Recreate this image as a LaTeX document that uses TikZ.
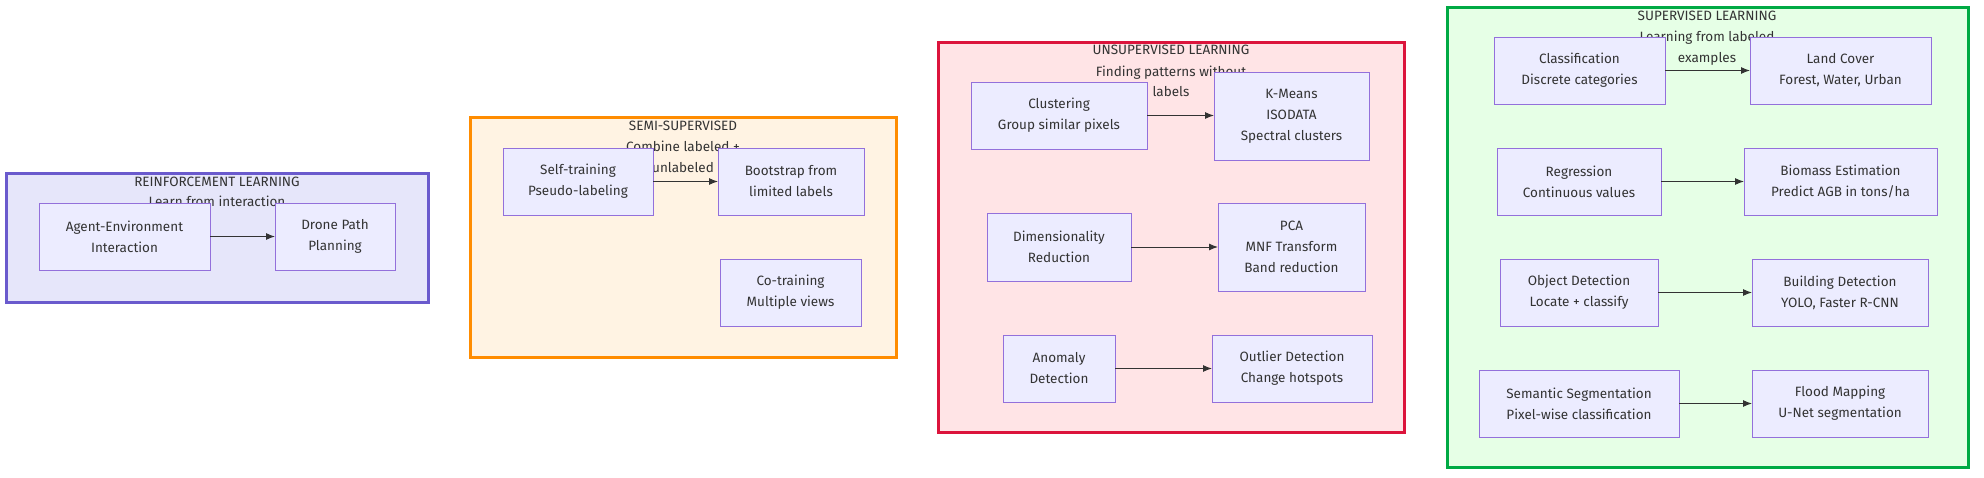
\documentclass[tikz,border=0pt]{standalone}
\usepackage{fontspec}
\setmainfont{Fira Sans}
\usetikzlibrary{arrows.meta}
\definecolor{nodefill}{HTML}{ECECFF}
\definecolor{nodeline}{HTML}{9370DB}
\definecolor{rlfill}{HTML}{E6E6FA}
\definecolor{rlline}{HTML}{6A5ACD}
\definecolor{ssfill}{HTML}{FFF3E3}
\definecolor{ssline}{HTML}{FF8C00}
\definecolor{usfill}{HTML}{FFE4E6}
\definecolor{usline}{HTML}{DC143C}
\definecolor{svfill}{HTML}{E6FFE6}
\definecolor{svline}{HTML}{00AA44}
\definecolor{edge}{HTML}{333333}
\definecolor{ink}{HTML}{333333}
\tikzset{
  txt/.style={font=\fontsize{13.5}{21}\selectfont, text=ink, align=center},
  box/.style={txt, draw=nodeline, fill=nodefill, line width=1pt, inner sep=0pt, outer sep=0pt, anchor=north west},
  cluster/.style={line width=3pt},
  ctitle/.style={txt, inner sep=0pt, text height=10pt, text depth=3pt},
  link/.style={draw=edge, line width=1pt, -{Latex[length=9pt,width=7pt]}}
}
\newcommand{\bx}[6]{\node[box, minimum width=#4-#2, minimum height=#5-#3] (#1) at (#2,#3) {#6};}
\begin{document}
\begin{tikzpicture}[x=1pt,y=-1pt]
\useasboundingbox (0,0) rectangle (1984,477);
% clusters
\draw[cluster, draw=rlline, fill=rlfill] (6,173) rectangle (428,302);
\node[ctitle] (rlt) at (217,183) {REINFORCEMENT LEARNING};
\node[ctitle] (rls) at (217,203) {Learn from interaction};
\draw[cluster, draw=ssline, fill=ssfill] (470,117) rectangle (896,357);
\node[ctitle] (sst) at (683,127) {SEMI-SUPERVISED};
\node[ctitle] (sss1) at (683,148) {Combine labeled +};
\node[ctitle] (sss2) at (683,169) {unlabeled};
\draw[cluster, draw=usline, fill=usfill] (938,42) rectangle (1404,432);
\node[ctitle] (ust) at (1171,51) {UNSUPERVISED LEARNING};
\node[ctitle] (uss1) at (1171,73) {Finding patterns without};
\node[ctitle] (uss2) at (1171,93) {labels};
\draw[cluster, draw=svline, fill=svfill] (1447,7) rectangle (1968,467);
\node[ctitle] (svt) at (1707,17) {SUPERVISED LEARNING};
\node[ctitle] (svs1) at (1707,38) {Learning from labeled};
\node[ctitle] (svs2) at (1707,59) {examples};
% reinforcement
\bx{agent}{39}{203}{210}{270}{Agent-Environment\\Interaction}
\bx{drone}{275}{203}{395}{270}{Drone Path\\Planning}
% semi
\bx{self}{503}{148}{653}{215}{Self-training\\Pseudo-labeling}
\bx{boot}{718}{148}{864}{215}{Bootstrap from\\limited labels}
\bx{cot}{720}{259}{861}{326}{Co-training\\Multiple views}
% unsupervised
\bx{clus}{971}{82}{1147}{149}{Clustering\\Group similar pixels}
\bx{kmeans}{1214}{72}{1369}{160}{K-Means\\ISODATA\\Spectral clusters}
\bx{dim}{987}{213}{1131}{281}{Dimensionality\\Reduction}
\bx{pca}{1218}{203}{1365}{291}{PCA\\MNF Transform\\Band reduction}
\bx{anom}{1003}{335}{1115}{402}{Anomaly\\Detection}
\bx{outl}{1212}{335}{1372}{402}{Outlier Detection\\Change hotspots}
% supervised
\bx{cls}{1494}{37}{1665}{104}{Classification\\Discrete categories}
\bx{land}{1750}{37}{1931}{104}{Land Cover\\Forest, Water, Urban}
\bx{reg}{1497}{148}{1661}{215}{Regression\\Continuous values}
\bx{bio}{1744}{148}{1937}{215}{Biomass Estimation\\Predict AGB in tons/ha}
\bx{obj}{1500}{259}{1658}{326}{Object Detection\\Locate + classify}
\bx{bld}{1752}{259}{1928}{326}{Building Detection\\YOLO, Faster R-CNN}
\bx{sem}{1479}{370}{1679}{437}{Semantic Segmentation\\Pixel-wise classification}
\bx{flood}{1752}{370}{1928}{437}{Flood Mapping\\U-Net segmentation}
% links
\draw[link] (agent) -- (drone);
\draw[link] (self) -- (boot);
\draw[link] (clus.east) -- (clus.east -| kmeans.west);
\draw[link] (dim.east) -- (dim.east -| pca.west);
\draw[link] (anom) -- (outl);
\draw[link] (cls) -- (land);
\draw[link] (reg) -- (bio);
\draw[link] (obj) -- (bld);
\draw[link] (sem) -- (flood);
\end{tikzpicture}
\end{document}
